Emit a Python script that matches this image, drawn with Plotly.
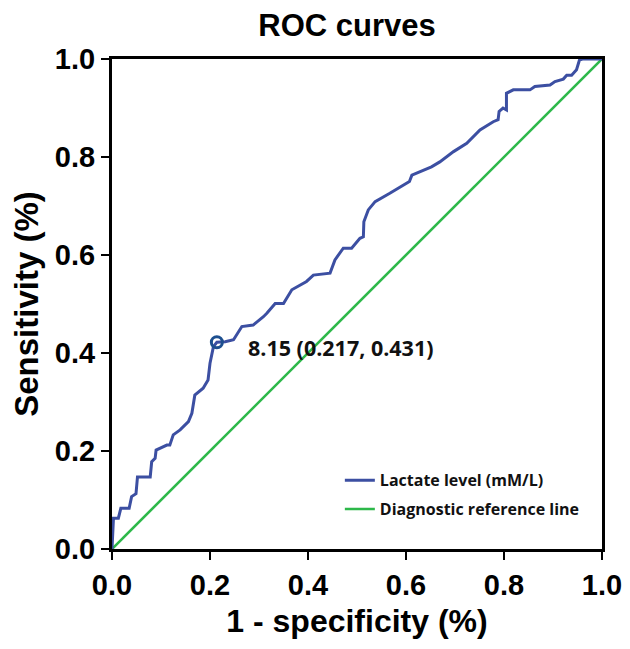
import plotly.graph_objects as go

# ROC curve for lactate level (1 - specificity, sensitivity)
fpr = [0.0, 0.003, 0.013, 0.018, 0.035, 0.040, 0.049, 0.052, 0.078, 0.081, 0.088, 0.090,
       0.112, 0.118, 0.125, 0.139, 0.156, 0.163, 0.169, 0.186, 0.196, 0.200, 0.207, 0.214,
       0.231, 0.248, 0.265, 0.288, 0.309, 0.316, 0.333, 0.350, 0.367, 0.384, 0.397, 0.411,
       0.445, 0.455, 0.472, 0.489, 0.506, 0.513, 0.514, 0.523, 0.537, 0.567, 0.598, 0.607,
       0.612, 0.629, 0.652, 0.669, 0.697, 0.724, 0.737, 0.751, 0.778, 0.788, 0.790, 0.798,
       0.805, 0.805, 0.819, 0.853, 0.863, 0.894, 0.904, 0.921, 0.928, 0.938, 0.948, 0.954,
       0.960, 1.0]
tpr = [0.0, 0.063, 0.063, 0.083, 0.083, 0.107, 0.113, 0.147, 0.147, 0.178, 0.185, 0.202,
       0.212, 0.212, 0.233, 0.243, 0.260, 0.277, 0.314, 0.328, 0.345, 0.379, 0.413, 0.422,
       0.423, 0.427, 0.454, 0.457, 0.474, 0.481, 0.501, 0.501, 0.529, 0.539, 0.546, 0.559,
       0.563, 0.590, 0.614, 0.614, 0.634, 0.637, 0.668, 0.692, 0.709, 0.726, 0.746, 0.750,
       0.763, 0.770, 0.780, 0.790, 0.811, 0.828, 0.841, 0.855, 0.872, 0.876, 0.893, 0.900,
       0.896, 0.930, 0.937, 0.937, 0.944, 0.947, 0.954, 0.959, 0.967, 0.967, 0.978, 0.998,
       1.0, 1.0]
ref_x = [0.0, 1.0]
ref_y = [0.0, 1.0]
cut_x = [0.214]
cut_y = [0.422]
cut_label = "8.15 (0.217, 0.431)"
tick_vals = [0.0, 0.2, 0.4, 0.6, 0.8, 1.0]
tick_text = ["0.0", "0.2", "0.4", "0.6", "0.8", "1.0"]

fig = go.Figure()
fig.add_trace(go.Scatter(x=ref_x, y=ref_y, mode="lines", name="Diagnostic reference line",
                         legendgroup="b", legendrank=2,
                         line=dict(color="#2db84a", width=2.6)))
fig.add_trace(go.Scatter(x=fpr, y=tpr, mode="lines", name="Lactate level (mM/L)",
                         legendgroup="a", legendrank=1,
                         line=dict(color="#3c4fa2", width=3)))
fig.add_trace(go.Scatter(x=cut_x, y=cut_y, mode="markers", showlegend=False,
                         marker=dict(symbol="circle-open", size=11, color="#1d4f8f",
                                     line=dict(width=3, color="#1d4f8f"))))
fig.add_annotation(x=cut_x[0], y=cut_y[0], text=cut_label, showarrow=False,
                   xanchor="left", yanchor="middle", xshift=29, yshift=-5,
                   font=dict(family="Open Sans", size=21.5, color="#111111", weight="bold"))

axis_common = dict(range=[0, 1], tickvals=tick_vals, ticktext=tick_text,
                   showline=True, linecolor="black", linewidth=3, mirror=True,
                   ticks="outside", ticklen=8, tickwidth=1.5, tickcolor="black",
                   showgrid=False, zeroline=False, automargin=False,
                   tickfont=dict(family="Liberation Sans", size=29, color="black", weight="bold"))

fig.update_layout(
    width=622, height=641,
    margin=dict(l=104, r=28, t=51, b=100),
    plot_bgcolor="white", paper_bgcolor="white",
    title=dict(text="ROC curves", x=0.545, xanchor="center", y=0.973, yanchor="middle",
               font=dict(family="Liberation Sans", size=31, color="black", weight="bold")),
    xaxis=dict(**axis_common,
               title=dict(text="1 - specificity (%)", standoff=10,
                          font=dict(family="Liberation Sans", size=32, color="black", weight="bold"))),
    yaxis=dict(**axis_common,
               title=dict(text="Sensitivity (%)", standoff=14,
                          font=dict(family="Liberation Sans", size=33, color="black", weight="bold"))),
    legend=dict(x=0.465, y=0.175, xanchor="left", yanchor="top", bgcolor="rgba(0,0,0,0)",
                itemwidth=30, tracegroupgap=5,
                font=dict(family="Open Sans", size=16, color="#111111", weight="bold")),
)

fig.write_html("out.html")
